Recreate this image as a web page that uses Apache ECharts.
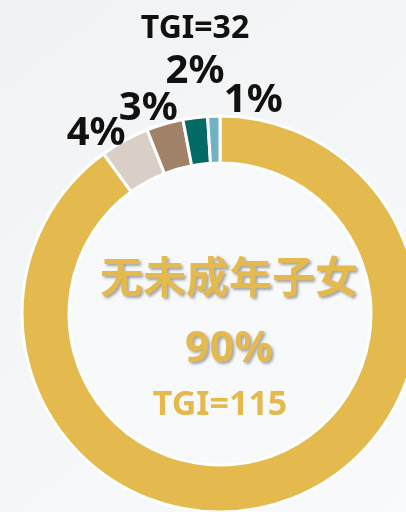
<!DOCTYPE html>
<html>
<head>
<meta charset="utf-8">
<script src="https://cdn.jsdelivr.net/npm/echarts@6/dist/echarts.min.js"></script>
<style>
  html, body { margin: 0; padding: 0; }
  #chart { width: 406px; height: 512px; }
</style>
</head>
<body>
<div id="chart"></div>
<script>
const categories = ['无未成年子女', '类别B', '类别C', '类别D', '类别E'];
const shares = [90, 4, 3, 2, 1];
const tgi = [115, null, null, 32, null];
const colors = ['#e4ba4f', '#d9cfc6', '#a08269', '#036a65', '#6fb2c4'];

// nudges for the labels, per slice
const labelShift = [[0, 22], [6, -7], [18, -15], [59, -66], [74, -15]];

const font = '"Noto Sans", "Noto Sans CJK SC", sans-serif';
const shadow = {
  textShadowColor: 'rgba(0,0,0,0.35)',
  textShadowBlur: 3,
  textShadowOffsetX: 2,
  textShadowOffsetY: 2
};

const data = categories.map((name, i) => {
  const item = { name, value: shares[i], itemStyle: { color: colors[i] } };
  if (i === 0) {
    item.label = {
      position: 'center',
      formatter: () => `{a|${name}}\n{b|${shares[i]}%}\n{c|TGI=${tgi[i]}}`,
      rich: {
        a: { fontSize: 43, fontWeight: 'bold', color: '#e4ba4f', fontFamily: font, lineHeight: 68, padding: [0, 0, 0, 18], ...shadow },
        b: { fontSize: 43, fontWeight: 'bold', color: '#e4ba4f', fontFamily: font, lineHeight: 70, padding: [0, 0, 0, 18], ...shadow },
        c: { fontSize: 34, fontWeight: 'bold', color: '#e4ba4f', fontFamily: font, lineHeight: 40 }
      }
    };
  } else if (tgi[i] != null) {
    item.label = {
      formatter: () => `{t|TGI=${tgi[i]}}\n{p|${shares[i]}%}`,
      rich: {
        t: { fontSize: 32, fontWeight: 'bold', color: '#111', fontFamily: font, lineHeight: 40, align: 'center' },
        p: { fontSize: 40, fontWeight: 'bold', color: '#111', fontFamily: font, lineHeight: 46, align: 'center' }
      }
    };
  }
  return item;
});

const myChart = echarts.init(document.getElementById('chart'));

const option = {
  backgroundColor: {
    type: 'linear', x: 0, y: 0, x2: 1, y2: 1,
    colorStops: [
      { offset: 0, color: '#f1f2f3' },
      { offset: 1, color: '#f9fafb' }
    ]
  },
  animation: false,
  series: [
    {
      type: 'pie',
      silent: true,
      center: [220, 314],
      radius: [0, 151],
      label: { show: false },
      data: [{ value: 1, itemStyle: { color: '#f8f9fb' } }]
    },
    {
      type: 'pie',
      center: [220, 314],
      radius: [151, 198],
      startAngle: 90,
      clockwise: true,
      avoidLabelOverlap: false,
      itemStyle: {
        borderColor: '#ffffff',
        borderWidth: 3
      },
      label: {
        show: true,
        position: 'outside',
        formatter: '{d}%',
        fontSize: 40,
        fontWeight: 'bold',
        color: '#111',
        fontFamily: font
      },
      labelLine: { show: false, length: 0, length2: 0 },
      labelLayout: (params) => {
        const s = labelShift[params.dataIndex];
        return { dx: s[0], dy: s[1] };
      },
      data: data
    }
  ]
};

myChart.setOption(option);
</script>
</body>
</html>
